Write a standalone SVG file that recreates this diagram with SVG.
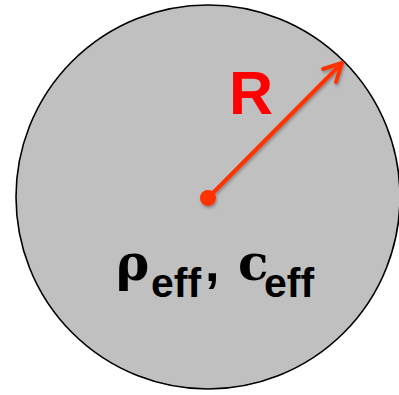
<svg xmlns="http://www.w3.org/2000/svg" width="399" height="395" viewBox="0 0 399 395">
<style>
.sym{font-family:'DejaVu Serif',serif;font-weight:bold;fill:#000}
.sub{font-family:'Liberation Sans',Arial,sans-serif;font-weight:bold;fill:#000}
.arrow{stroke:#ff3300;stroke-width:4;fill:none;stroke-linecap:round;stroke-linejoin:round}
</style>
<defs>
<filter id="sh" x="-20%" y="-20%" width="140%" height="140%">
<feDropShadow dx="1" dy="2" stdDeviation="1.5" flood-color="#000" flood-opacity="0.3"/>
</filter>
</defs>
<rect width="399" height="395" fill="#fff"/>
<g id="sphere">
<circle cx="208" cy="197" r="192" fill="#c0c0c0" stroke="#000" stroke-width="1.6"/>
</g>
<g id="connectors" filter="url(#sh)">
<line class="arrow" x1="208" y1="198" x2="342" y2="63"/>
<polyline class="arrow" points="323,69 342,63 336,82"/>
<circle cx="208" cy="198" r="8" fill="#ff3300"/>
</g>
<g id="label-R">
<text x="229" y="114" font-family="Liberation Sans,Arial,sans-serif" font-weight="bold" font-size="61" fill="#ff0000">R</text>
</g>
<g id="label-props">
<text x="116" y="280" class="sym" font-size="50">ρ</text>
<text x="151" y="297" class="sub" font-size="41">eff</text>
<text x="205" y="281" class="sub" font-size="52">,</text>
<text x="238" y="280" class="sym" font-size="50">c</text>
<text x="264" y="297" class="sub" font-size="41">eff</text>
</g>
</svg>
